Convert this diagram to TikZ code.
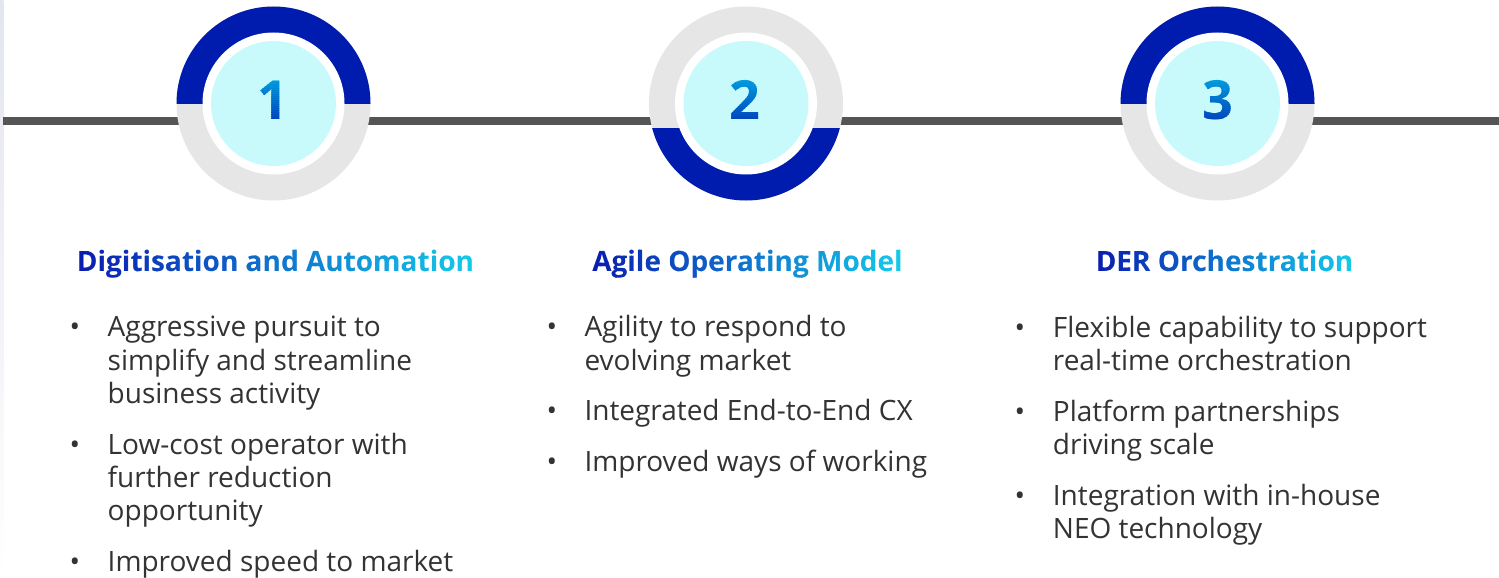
\documentclass[tikz,border=0pt]{standalone}
\usepackage{fontspec}
\setmainfont{Open Sans}
\definecolor{ringblue}{HTML}{001CAF}
\definecolor{ringgrey}{HTML}{E6E6E6}
\definecolor{innercyan}{HTML}{C8FAFC}
\definecolor{linegrey}{HTML}{555555}
\definecolor{bodygrey}{HTML}{333333}
\definecolor{stripc}{HTML}{E3E5EF}
\definecolor{gA}{HTML}{0A1EB0}
\definecolor{gC}{HTML}{14C8EA}
\definecolor{dTop}{HTML}{009ADE}
\definecolor{dBot}{HTML}{0048BC}
\newcommand{\digfont}{\fontsize{54}{54}\selectfont\bfseries}
\newcommand{\ttlfont}{\fontsize{28}{32}\selectfont\bfseries}
\tikzset{
  ringbase/.style={circle, fill=ringgrey, minimum size=194pt, inner sep=0pt},
  whitedisc/.style={circle, fill=white, minimum size=142pt, inner sep=0pt},
  cyandisc/.style={circle, fill=innercyan, minimum size=125pt, inner sep=0pt},
  bodytext/.style={text=bodygrey, inner sep=0pt, font=\fontsize{28}{33}\selectfont},
  bodyline/.style={bodytext, anchor=base west},
  bulletmark/.style={bodytext, anchor=base},
  ttltext/.style={inner sep=0pt, anchor=base, font=\ttlfont},
  digtext/.style={inner sep=0pt, anchor=base, font=\digfont},
}
% title with a left-to-right colour gradient: #1 name, #2 centre x, #3 half width, #4 text
\newcommand{\gradtitle}[4]{%
  \foreach \i in {0,...,39}{%
    \pgfmathsetmacro\xa{#2-#3+\i*2*#3/40-(\i==0)*30}%
    \pgfmathsetmacro\xb{#2-#3+(\i+1)*2*#3/40+0.7+(\i==39)*30}%
    \pgfmathtruncatemacro\pct{round(100*\i/39)}%
    \begin{scope}
      \clip (\xa,235) rectangle (\xb,290);
      \node[ttltext, text=gC!\pct!gA] (#1s\i) at (#2,271) {#4};
    \end{scope}
  }%
}
% digit with a top-to-bottom colour gradient: #1 name, #2 centre x, #3 digit
\newcommand{\graddigit}[3]{%
  \foreach \i in {0,...,19}{%
    \pgfmathsetmacro\ya{80+\i*2-(\i==0)*20}%
    \pgfmathsetmacro\yb{82.7+\i*2+(\i==19)*20}%
    \pgfmathtruncatemacro\pct{round(100*\i/19)}%
    \begin{scope}
      \clip (#2-40,\ya) rectangle (#2+40,\yb);
      \node[digtext, text=dBot!\pct!dTop] (#1s\i) at (#2,119) {#3};
    \end{scope}
  }%
}
\begin{document}
\begin{tikzpicture}[x=1pt, y=-1pt]
\useasboundingbox (0,0) rectangle (1499,578);
\fill[white] (0,0) rectangle (1499,578);
\shade[top color=stripc, bottom color=white] (0,0) rectangle (3.3,578);
% timeline
\coordinate (lineL) at (3.3,121);
\coordinate (lineR) at (1499,121);
\draw[line width=7.5pt, linegrey] (lineL) -- (lineR);
% circle 1
\node[ringbase] (r1) at (273.5,103.5) {};
\begin{scope}
  \clip (r1.west) rectangle (r1.north -| r1.east);
  \fill[ringblue] (r1.center) circle[radius=97pt];
\end{scope}
\node[whitedisc] (w1) at (r1) {};
\node[cyandisc] (c1) at (r1) {};
% circle 2
\node[ringbase] (r2) at (746,103.5) {};
\begin{scope}
  \clip (r2.south -| r2.west) rectangle (r2.east |- 0,128);
  \fill[ringblue] (r2.center) circle[radius=97pt];
\end{scope}
\node[whitedisc] (w2) at (r2) {};
\node[cyandisc] (c2) at (r2) {};
% circle 3
\node[ringbase] (r3) at (1217.5,103.5) {};
\begin{scope}
  \clip (r3.west) rectangle (r3.north -| r3.east);
  \fill[ringblue] (r3.center) circle[radius=97pt];
\end{scope}
\node[whitedisc] (w3) at (r3) {};
\node[cyandisc] (c3) at (r3) {};
% digits
\graddigit{dgone}{273}{1}
\graddigit{dgtwo}{745}{2}
\graddigit{dgthree}{1217.5}{3}
% titles
\gradtitle{ttone}{275.5}{198}{Digitisation and Automation}
\gradtitle{tttwo}{747.5}{155}{Agile Operating Model}
\gradtitle{ttthree}{1224.5}{128}{DER Orchestration}
% column 1
\node[bulletmark] (c1b1) at (75,336.7) {•};
\node[bodyline] (c1l1) at (107.5,336.7) {Aggressive pursuit to};
\node[bodyline] (c1l2) at (107.5,370) {simplify and streamline};
\node[bodyline] (c1l3) at (107.5,403.3) {business activity};
\node[bulletmark] (c1b2) at (75,454) {•};
\node[bodyline] (c1l4) at (107.5,454) {Low-cost operator with};
\node[bodyline] (c1l5) at (107.5,487.3) {further reduction};
\node[bodyline] (c1l6) at (107.5,520.6) {opportunity};
\node[bulletmark] (c1b3) at (75,571) {•};
\node[bodyline] (c1l7) at (107.5,571) {Improved speed to market};
% column 2
\node[bulletmark] (c2b1) at (552,336.7) {•};
\node[bodyline] (c2l1) at (584.3,336.7) {Agility to respond to};
\node[bodyline] (c2l2) at (584.3,370) {evolving market};
\node[bulletmark] (c2b2) at (552,420.7) {•};
\node[bodyline] (c2l3) at (584.3,420.7) {Integrated End-to-End CX};
\node[bulletmark] (c2b3) at (552,471.4) {•};
\node[bodyline] (c2l4) at (584.3,471.4) {Improved ways of working};
% column 3
\node[bulletmark] (c3b1) at (1020,337.5) {•};
\node[bodyline] (c3l1) at (1052.7,337.5) {Flexible capability to support};
\node[bodyline] (c3l2) at (1052.7,370.8) {real-time orchestration};
\node[bulletmark] (c3b2) at (1020,421.5) {•};
\node[bodyline] (c3l3) at (1052.7,421.5) {Platform partnerships};
\node[bodyline] (c3l4) at (1052.7,454.8) {driving scale};
\node[bulletmark] (c3b3) at (1020,505.5) {•};
\node[bodyline] (c3l5) at (1052.7,505.5) {Integration with in-house};
\node[bodyline] (c3l6) at (1052.7,538.8) {NEO technology};
\end{tikzpicture}
\end{document}
